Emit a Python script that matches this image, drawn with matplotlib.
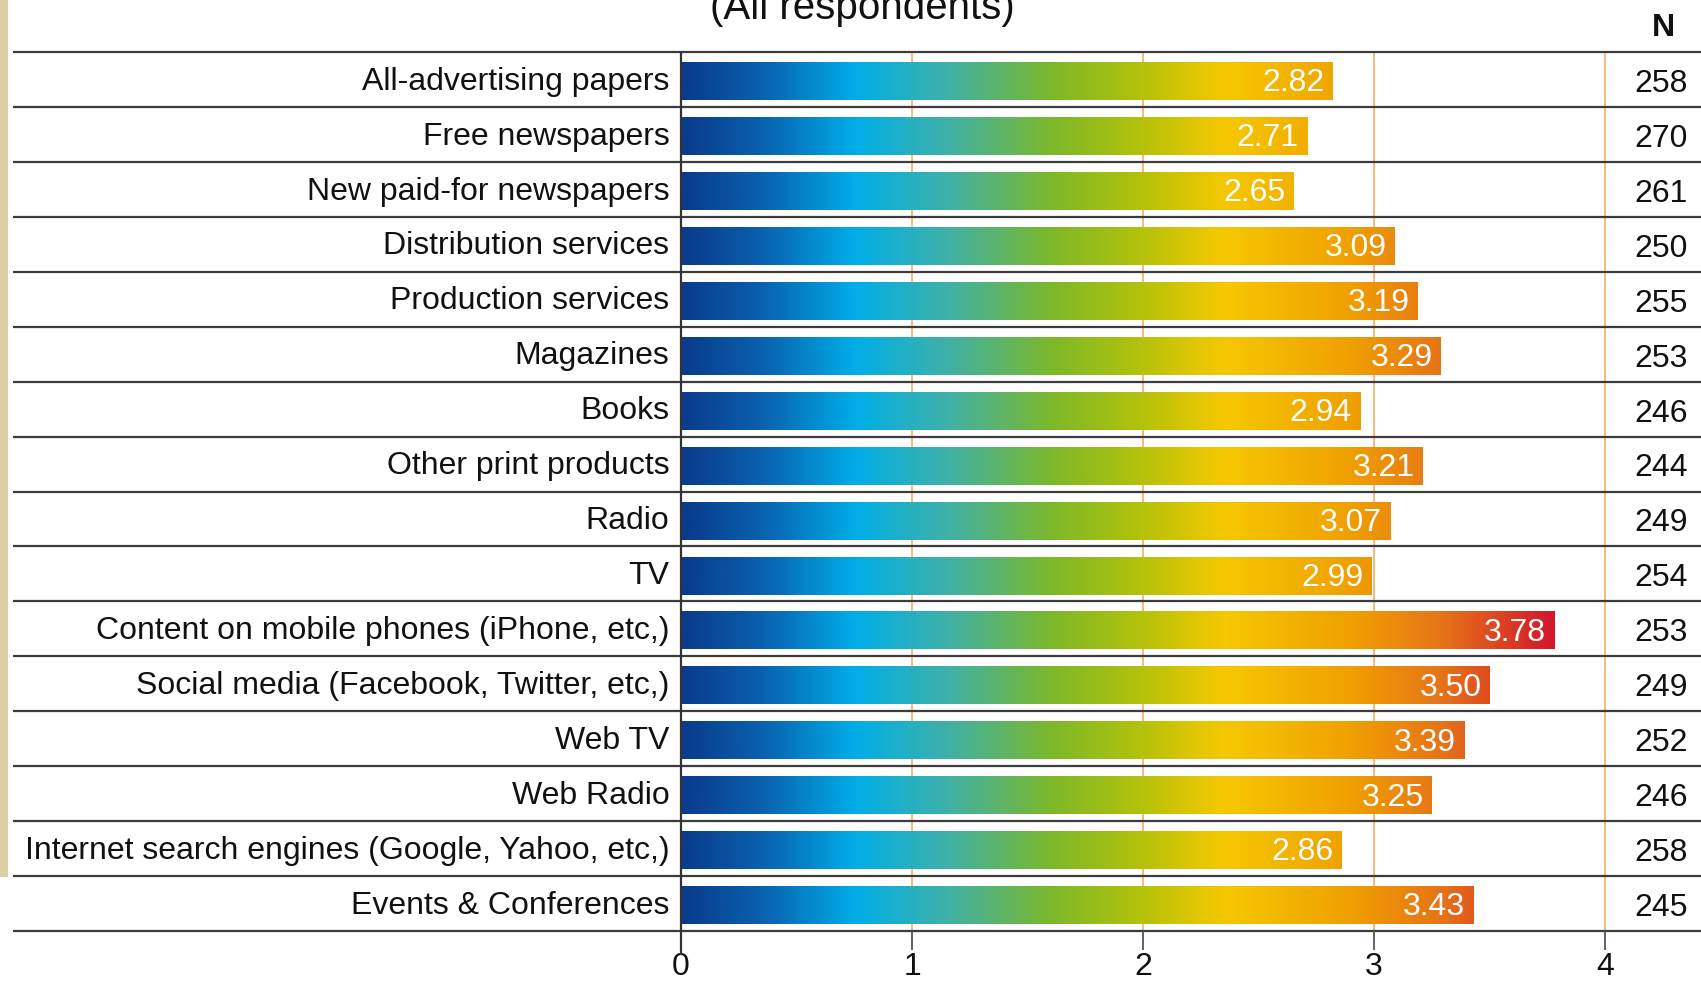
import matplotlib.pyplot as plt
import numpy as np
from matplotlib.colors import LinearSegmentedColormap
from matplotlib.patches import Rectangle

plt.rcParams['font.family'] = ['Liberation Sans', 'DejaVu Sans']

categories = ["All-advertising papers", "Free newspapers", "New paid-for newspapers",
              "Distribution services", "Production services", "Magazines", "Books",
              "Other print products", "Radio", "TV",
              "Content on mobile phones (iPhone, etc,)",
              "Social media (Facebook, Twitter, etc,)", "Web TV", "Web Radio",
              "Internet search engines (Google, Yahoo, etc,)", "Events & Conferences"]
values = [2.82, 2.71, 2.65, 3.09, 3.19, 3.29, 2.94, 3.21, 3.07, 2.99,
          3.78, 3.50, 3.39, 3.25, 2.86, 3.43]
n_values = [258, 270, 261, 250, 255, 253, 246, 244, 249, 254,
            253, 249, 252, 246, 258, 245]
xticks = [0, 1, 2, 3, 4]

# colour ramp follows the value axis, 0 -> 4
stops = [(0.0, "#0a3b8c"), (0.35, "#0a62b0"), (0.75, "#00aee8"), (1.15, "#3fb1a8"),
         (1.6, "#7cb82a"), (2.0, "#b5c20a"), (2.35, "#f6c800"), (2.9, "#f0a000"),
         (3.3, "#e67418"), (3.8, "#d2142c"), (4.0, "#c8102e")]
cmap = LinearSegmentedColormap.from_list("ramp", [(s / 4.0, c) for s, c in stops])

W, H = 1701, 981
fig = plt.figure(figsize=(W / 100, H / 100), dpi=100)
ax = fig.add_axes([0, 0, 1, 1])

unit = 231.0      # px per value unit
x0px = 681.0      # px of value 0
row = 54.94       # px per row
top_line = 52.0   # px of first separator

xlim = (-x0px / unit, (W - x0px) / unit)
ylim = (-0.5 + (H - top_line) / row, -0.5 - top_line / row)

nrows = len(categories)
bar_h = 0.69
for i, (v, n) in enumerate(zip(values, n_values)):
    yc = i + 0.03
    grad = cmap(np.linspace(0, v, 400) / 4.0)[None, :, :]
    ax.imshow(grad, extent=(0, v, yc + bar_h / 2, yc - bar_h / 2), aspect='auto',
              interpolation='bilinear', zorder=3)
    ax.text(v - 0.035, yc + 0.04, f"{v:.2f}", ha='right', va='center', color='white',
            fontsize=23, zorder=4)
    ax.text(-0.05, i + 0.04, categories[i], ha='right', va='center', fontsize=23, color='#111111')
    ax.text(4.242, i + 0.08, str(n), ha='center', va='center', fontsize=23, color='#111111')

# row separators
ax.hlines(np.arange(nrows + 1) - 0.5, (13 - x0px) / unit, xlim[1], color='#3c3c3c', lw=1.6, zorder=2)

# gridlines
for t in xticks[1:]:
    ax.vlines(t, -0.5, nrows - 0.5, color='#f3b572', lw=1.3, zorder=1)
    ax.vlines(t, nrows - 0.5, nrows - 0.5 + 19 / row, color='#555555', lw=1.3, zorder=2)
ax.vlines(0, -0.5, nrows - 0.5 + 24 / row, color='#333333', lw=1.6, zorder=5)

for t in xticks:
    ax.text(t, nrows - 0.5 + 36 / row, str(t), ha='center', va='center', fontsize=23, color='#111111')

ax.text(0.784, ylim[1] + 19 / row, "(All respondents)", ha='center', va='baseline', fontsize=29, color='#111111')
ax.text(4.255, ylim[1] + 28 / row, "N", ha='center', va='center', fontsize=23, fontweight='bold', color='#111111')

# textured slide edge on the left
ax.add_patch(Rectangle((0, 1 - 877 / H), 8 / W, 877 / H, transform=ax.transAxes,
                       facecolor='#ddd0a8', edgecolor='none', zorder=6))

ax.set_xlim(xlim)
ax.set_ylim(ylim)
ax.axis('off')

fig.savefig("out.png", dpi=100)
